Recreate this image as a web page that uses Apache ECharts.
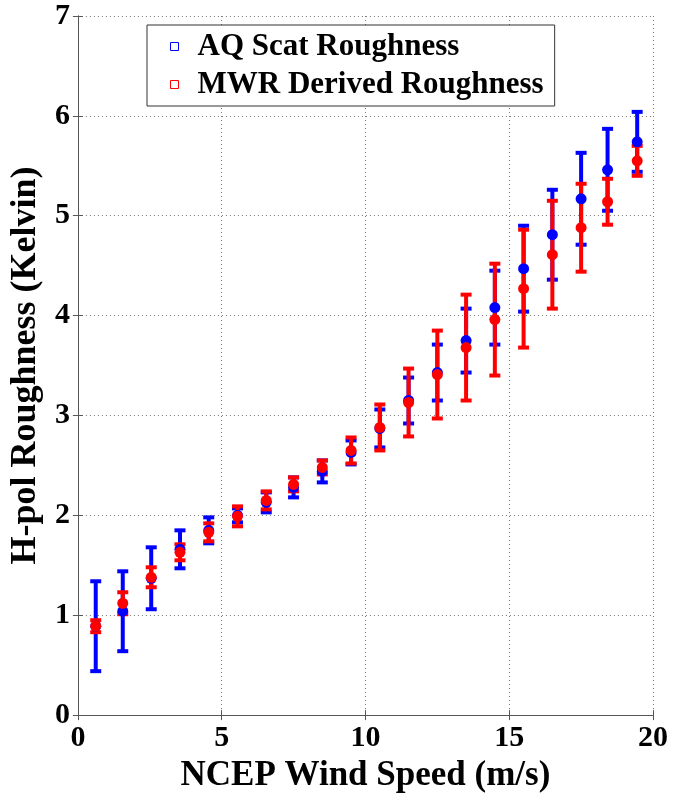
<!DOCTYPE html>
<html>
<head>
<meta charset="utf-8">
<script src="https://cdn.jsdelivr.net/npm/echarts@6/dist/echarts.min.js"></script>
<style>
  html, body { margin: 0; padding: 0; background: #fff; }
  #chart { width: 677px; height: 798px; }
</style>
</head>
<body>
<div id="chart"></div>
<script>
// Wind-speed bin centres (m/s)
const windSpeed = [0.62, 1.56, 2.55, 3.55, 4.55, 5.55, 6.55, 7.5, 8.5, 9.5,
                   10.5, 11.5, 12.5, 13.5, 14.5, 15.5, 16.5, 17.5, 18.42, 19.45];

// AQ scatterometer roughness: bin mean and standard deviation (K)
const aqMean = [0.89, 1.04, 1.37, 1.66, 1.85, 2.00, 2.13, 2.28, 2.44, 2.63,
                2.87, 3.15, 3.43, 3.75, 4.08, 4.47, 4.81, 5.17, 5.46, 5.74];
const aqStd  = [0.45, 0.40, 0.31, 0.19, 0.13, 0.07, 0.10, 0.10, 0.11, 0.12,
                0.19, 0.23, 0.28, 0.32, 0.37, 0.43, 0.45, 0.46, 0.41, 0.30];

// MWR derived roughness: bin mean and standard deviation (K)
const mwrMean = [0.89, 1.12, 1.38, 1.63, 1.83, 1.99, 2.15, 2.31, 2.48, 2.65,
                 2.88, 3.13, 3.41, 3.68, 3.96, 4.27, 4.61, 4.88, 5.14, 5.55];
const mwrStd  = [0.06, 0.11, 0.10, 0.08, 0.09, 0.10, 0.09, 0.07, 0.07, 0.13,
                 0.23, 0.34, 0.44, 0.53, 0.56, 0.59, 0.54, 0.44, 0.23, 0.15];

const seriesNames = ['AQ Scat Roughness', 'MWR Derived Roughness'];
const xTicks = [0, 5, 10, 15, 20];
const yTicks = [0, 1, 2, 3, 4, 5, 6, 7];

const BLUE = '#0000ff';
const RED = '#ff0000';
const FONT = '"Liberation Serif", "Times New Roman", serif';

function points(mean) {
  return windSpeed.map((x, i) => [x, mean[i]]);
}
function bars(mean, std) {
  return windSpeed.map((x, i) => [x, mean[i] - std[i], mean[i] + std[i]]);
}

// Vertical error bar with short horizontal caps
function errorBar(color) {
  return function (params, api) {
    const x = api.value(0);
    const lo = api.coord([x, api.value(1)]);
    const hi = api.coord([x, api.value(2)]);
    const hw = 5.5;
    const style = { stroke: color, lineWidth: 4 };
    return {
      type: 'group',
      children: [
        { type: 'line', shape: { x1: lo[0], y1: lo[1], x2: hi[0], y2: hi[1] }, style },
        { type: 'line', shape: { x1: hi[0] - hw, y1: hi[1], x2: hi[0] + hw, y2: hi[1] }, style },
        { type: 'line', shape: { x1: lo[0] - hw, y1: lo[1], x2: lo[0] + hw, y2: lo[1] }, style }
      ]
    };
  };
}

const axisLine = { show: true, lineStyle: { color: '#555', width: 1 } };
const tickIn = { show: true, inside: true, length: 5, lineStyle: { color: '#555' } };
const dotted = { show: true, lineStyle: { color: '#777', type: [1, 3], width: 1 } };
const labelStyle = { color: '#000', fontFamily: FONT, fontWeight: 'bold', fontSize: 30 };
const nameStyleX = { color: '#000', fontFamily: FONT, fontWeight: 'bold', fontSize: 35 };
const nameStyleY = { color: '#000', fontFamily: FONT, fontWeight: 'bold', fontSize: 36 };

const squareIcon = 'path://M0,0H10V10H0Z';

const chart = echarts.init(document.getElementById('chart'), null, { renderer: 'canvas' });
chart.setOption({
  animation: false,
  backgroundColor: '#fff',
  grid: { left: 75, right: 24, top: 16, bottom: 75, show: false },
  legend: {
    orient: 'vertical',
    left: 147,
    top: 25,
    padding: [6, 11, 6, 23],
    itemGap: 7,
    itemWidth: 36,
    itemHeight: 8,
    backgroundColor: '#fff',
    borderColor: '#333',
    borderWidth: 1,
    textStyle: { color: '#000', fontFamily: FONT, fontWeight: 'bold', fontSize: 31, lineHeight: 31 },
    data: [
      { name: seriesNames[0], icon: squareIcon, itemStyle: { color: 'rgba(0,0,0,0)', borderColor: BLUE, borderWidth: 1 } },
      { name: seriesNames[1], icon: squareIcon, itemStyle: { color: 'rgba(0,0,0,0)', borderColor: RED, borderWidth: 1 } }
    ]
  },
  xAxis: [
    {
      type: 'value', min: xTicks[0], max: xTicks[xTicks.length - 1], interval: 5,
      name: 'NCEP Wind Speed (m/s)', nameLocation: 'middle', nameGap: 31,
      nameTextStyle: nameStyleX,
      axisLine, axisTick: tickIn,
      axisLabel: Object.assign({ margin: 8 }, labelStyle),
      splitLine: dotted
    },
    {
      type: 'value', position: 'top', min: xTicks[0], max: xTicks[xTicks.length - 1], interval: 5,
      axisLine, axisTick: tickIn, axisLabel: { show: false }, splitLine: { show: false }
    }
  ],
  yAxis: [
    {
      type: 'value', min: yTicks[0], max: yTicks[yTicks.length - 1], interval: 1,
      name: 'H-pol Roughness (Kelvin)', nameLocation: 'middle', nameGap: 28,
      nameTextStyle: nameStyleY,
      axisLine, axisTick: tickIn,
      axisLabel: Object.assign({ margin: 8 }, labelStyle),
      splitLine: dotted
    },
    {
      type: 'value', position: 'right', min: yTicks[0], max: yTicks[yTicks.length - 1], interval: 1,
      axisLine, axisTick: tickIn, axisLabel: { show: false }, splitLine: { show: false }
    }
  ],
  series: [
    {
      name: seriesNames[0], type: 'custom', renderItem: errorBar(BLUE),
      encode: { x: 0, y: [1, 2] }, data: bars(aqMean, aqStd), silent: true
    },
    {
      name: seriesNames[0], type: 'scatter', symbol: 'circle', symbolSize: 11,
      itemStyle: { color: BLUE, opacity: 1 }, data: points(aqMean)
    },
    {
      name: seriesNames[1], type: 'custom', renderItem: errorBar(RED),
      encode: { x: 0, y: [1, 2] }, data: bars(mwrMean, mwrStd), silent: true
    },
    {
      name: seriesNames[1], type: 'scatter', symbol: 'circle', symbolSize: 11,
      itemStyle: { color: RED, opacity: 1 }, data: points(mwrMean)
    }
  ]
});
</script>
</body>
</html>
